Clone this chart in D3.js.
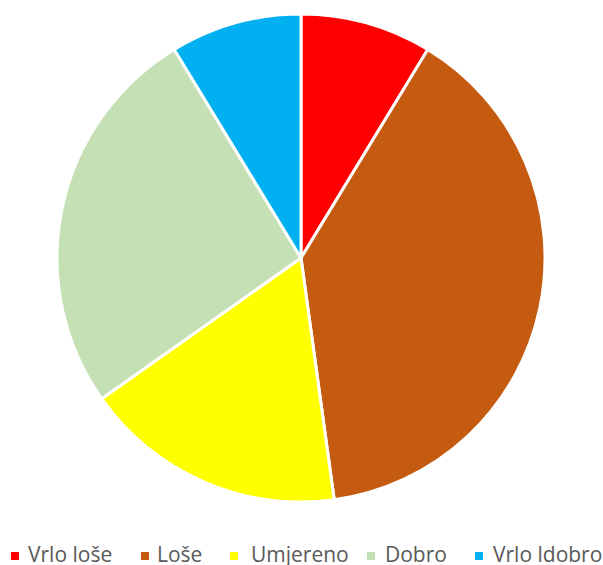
<!DOCTYPE html>
<html><head><meta charset="utf-8">
<script src="https://cdn.jsdelivr.net/npm/d3@7"></script>
<style>body{margin:0;background:#fff;}svg{display:block;}</style>
</head><body>
<svg id="c" width="603" height="565"></svg>
<script>
const categories = ["Vrlo loše", "Loše", "Umjereno", "Dobro", "Vrlo ldobro"];
const values = [2, 9, 4, 6, 2];
const colors = ["#FF0000", "#C55A11", "#FFFF00", "#C5E0B4", "#00B0F0"];

const svg = d3.select("#c");
const cx = 301, cy = 258, r = 244;
const pie = d3.pie().sort(null).value(d => d)(values);
const arc = d3.arc().innerRadius(0).outerRadius(r);
const color = d3.scaleOrdinal().domain(categories).range(colors);

svg.append("g").attr("transform", `translate(${cx},${cy})`)
  .selectAll("path").data(pie).join("path")
  .attr("d", arc)
  .attr("fill", (d, i) => color(categories[i]))
  .attr("stroke", "#fff").attr("stroke-width", 3).attr("stroke-linejoin", "round");

const sqX = [11, 141, 230, 367, 475];
const txX = [28, 157, 251, 385, 493];
const lg = svg.append("g");
categories.forEach((c, i) => {
  lg.append("rect").attr("x", sqX[i]).attr("y", 552).attr("width", 8).attr("height", 8).attr("fill", color(c));
  lg.append("text").attr("x", txX[i]).attr("y", 562)
    .attr("font-family", "Open Sans, sans-serif").attr("font-size", 21)
    .attr("fill", "#595959").text(c);
});
</script>
</body></html>
